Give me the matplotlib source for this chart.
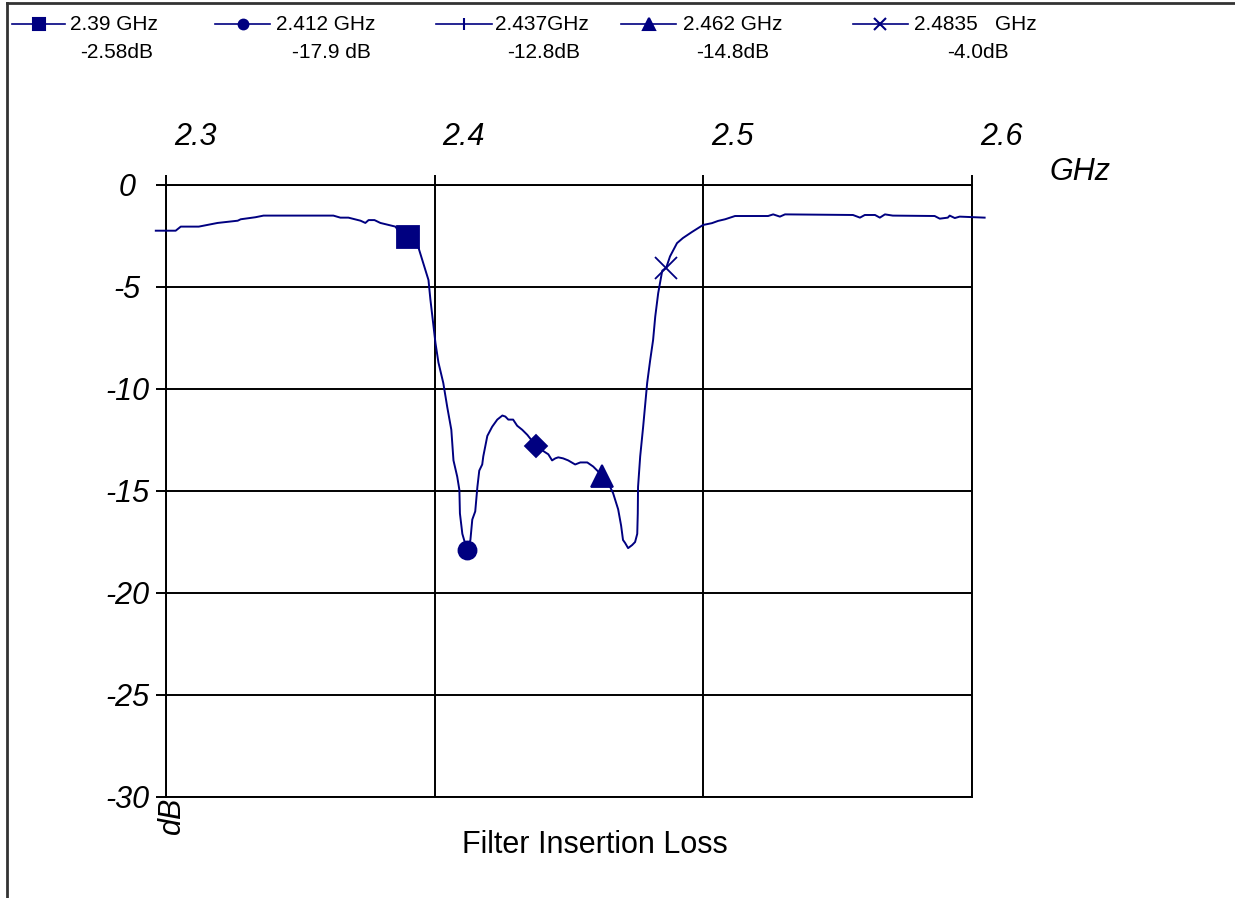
import matplotlib.pyplot as plt
from matplotlib.lines import Line2D
from matplotlib.transforms import ScaledTranslation

plt.rcParams['font.family'] = ['Liberation Sans', 'DejaVu Sans']

# measured insertion loss trace
freq_ghz = [2.2962, 2.3036, 2.3055, 2.3122, 2.3192, 2.3267, 2.3278, 2.3333, 2.3363,
            2.3623, 2.3649, 2.3679, 2.3724, 2.3742, 2.3754, 2.3776, 2.3798, 2.3854,
            2.3865, 2.3902, 2.3939, 2.3977, 2.3984, 2.4003, 2.4014, 2.4032, 2.4047,
            2.4062, 2.4070, 2.4084, 2.4092, 2.4094, 2.4103, 2.4114, 2.4122, 2.4133,
            2.4140, 2.4151, 2.4159, 2.4166, 2.4177, 2.4181, 2.4196, 2.4200, 2.4214,
            2.4233, 2.4252, 2.4263, 2.4274, 2.4292, 2.4307, 2.4326, 2.4345, 2.4378,
            2.4411, 2.4423, 2.4437, 2.4449, 2.4460, 2.4478, 2.4497, 2.4523, 2.4542,
            2.4568, 2.4590, 2.4624, 2.4653, 2.4664, 2.4683, 2.4694, 2.4701, 2.4709,
            2.4720, 2.4735, 2.4746, 2.4754, 2.4756, 2.4757, 2.4765, 2.4776, 2.4791,
            2.4802, 2.4813, 2.4821, 2.4832, 2.4847, 2.4862, 2.4876, 2.4902, 2.4924,
            2.4958, 2.4999, 2.5032, 2.5055, 2.5081, 2.5118, 2.5241, 2.5260, 2.5285,
            2.5304, 2.5557, 2.5583, 2.5601, 2.5639, 2.5657, 2.5676, 2.5705, 2.5861,
            2.5880, 2.5910, 2.5917, 2.5936, 2.5954, 2.6047]
loss_db = [-2.24, -2.24, -2.04, -2.04, -1.86, -1.75, -1.68, -1.58, -1.50,
           -1.50, -1.60, -1.60, -1.75, -1.86, -1.72, -1.72, -1.86, -2.04,
           -2.25, -2.55, -3.04, -4.66, -5.6, -7.75, -8.7, -9.7, -10.9,
           -12.0, -13.5, -14.3, -14.95, -16.1, -17.1, -17.6, -17.9, -17.4,
           -16.4, -16.0, -14.8, -14.0, -13.7, -13.3, -12.3, -12.2, -11.85,
           -11.5, -11.3, -11.35, -11.5, -11.5, -11.8, -12.0, -12.25, -12.8,
           -13.1, -13.2, -13.5, -13.4, -13.35, -13.4, -13.5, -13.7, -13.6,
           -13.6, -13.8, -14.25, -14.8, -15.1, -15.9, -16.7, -17.4, -17.55,
           -17.8, -17.65, -17.5, -17.1, -16.1, -14.8, -13.3, -11.85, -9.7,
           -8.6, -7.6, -6.45, -5.3, -4.2, -4.05, -3.5, -2.85, -2.6,
           -2.3, -1.96, -1.87, -1.76, -1.68, -1.52, -1.52, -1.44, -1.55,
           -1.44, -1.47, -1.6, -1.47, -1.47, -1.6, -1.44, -1.5, -1.52,
           -1.65, -1.6, -1.5, -1.62, -1.55, -1.6]

# marker points
marker_freq = [2.3902, 2.4122, 2.4378, 2.4624, 2.4862]
marker_db = [-2.55, -17.9, -12.8, -14.25, -4.05]
plot_markers = ['s', 'o', 'D', '^', 'x']
plot_msizes = [16, 13, 11, 16, 16]

legend_freqs = ['2.39 GHz', '2.412 GHz', '2.437GHz', '2.462 GHz', '2.4835   GHz']
legend_losses = ['-2.58dB', '-17.9 dB', '-12.8dB', '-14.8dB', '-4.0dB']
legend_markers = ['s', 'o', '|', '^', 'x']

x_ticks = [2.3, 2.4, 2.5, 2.6]
y_ticks = [0, -5, -10, -15, -20, -25, -30]

navy = '#000080'
W, H = 1235, 898

fig = plt.figure(figsize=(W / 100, H / 100), dpi=100)
ax = fig.add_axes([166 / W, 1 - 797 / H, (972 - 166) / W, (797 - 185) / H])

ax.plot(freq_ghz, loss_db, color=navy, lw=1.4, clip_on=False, zorder=3)
for f, d, m, s in zip(marker_freq, marker_db, plot_markers, plot_msizes):
    ax.plot([f], [d], marker=m, ms=s, color=navy, mew=1.3, ls='none',
            clip_on=False, zorder=4)

ax.set_xlim(2.3, 2.6)
ax.set_ylim(-30, 0)
ax.xaxis.tick_top()
ax.set_xticks(x_ticks)
ax.set_xticklabels([f'{t:.1f}' for t in x_ticks], fontsize=22, style='italic')
ax.set_yticks(y_ticks)
ax.set_yticklabels([str(t) for t in y_ticks], fontsize=22, style='italic', ha='center')
ax.tick_params(axis='x', direction='out', length=7, width=1.4, pad=17)
ax.tick_params(axis='y', direction='out', length=7, width=1.4, pad=21)
for lab in ax.get_xticklabels():
    lab.set_transform(lab.get_transform() + ScaledTranslation(0.29, 0, fig.dpi_scale_trans))
ax.grid(True, color='black', lw=1.4)
for sp in ax.spines.values():
    sp.set_linewidth(1.4)

fig.text(1080 / W, 1 - 172 / H, 'GHz', fontsize=22, style='italic', ha='center', va='center')
fig.text(172 / W, 1 - 815 / H, 'dB', fontsize=22, style='italic', rotation=90,
         ha='center', va='center')
fig.text(595 / W, 1 - 845 / H, 'Filter Insertion Loss', fontsize=22, ha='center', va='center')

# custom legend across the top
line_x = [(12, 65), (215, 270), (436, 492), (621, 676), (853, 908)]
txt1_x = [70, 276, 495, 683, 914]
txt2_x = [80, 292, 507, 696, 947]
for i in range(5):
    x0, x1 = line_x[i]
    fig.add_artist(Line2D([x0 / W, x1 / W], [1 - 24 / H, 1 - 24 / H], color=navy, lw=1.2,
                          transform=fig.transFigure))
    fig.add_artist(Line2D([(x0 + x1) / 2 / W], [1 - 24 / H], color=navy,
                          marker=legend_markers[i], ms=9 if legend_markers[i] != 'o' else 7,
                          mew=1.5, transform=fig.transFigure))
    fig.text(txt1_x[i] / W, 1 - 24 / H, legend_freqs[i], fontsize=15, va='center', ha='left')
    fig.text(txt2_x[i] / W, 1 - 53 / H, legend_losses[i], fontsize=15, va='center', ha='left')

# outer frame (top and left)
fig.add_artist(Line2D([7 / W, 1], [1 - 3 / H, 1 - 3 / H], color='#333333', lw=2,
                      transform=fig.transFigure))
fig.add_artist(Line2D([7 / W, 7 / W], [0, 1 - 3 / H], color='#333333', lw=2,
                      transform=fig.transFigure))

fig.savefig('out.png', dpi=100)
